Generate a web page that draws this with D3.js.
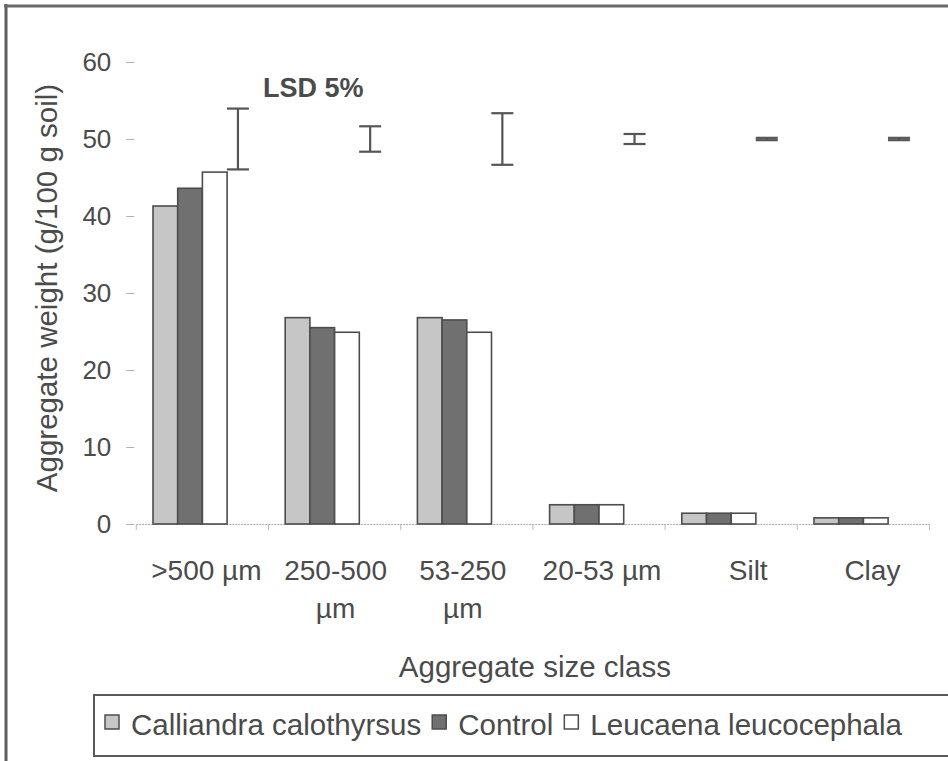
<!DOCTYPE html>
<html>
<head>
<meta charset="utf-8">
<script src="https://cdn.jsdelivr.net/npm/d3@7"></script>
<style>
  html, body { margin: 0; padding: 0; background: #ffffff; }
  svg { display: block; }
  text { font-family: "Liberation Sans", Arial, sans-serif; fill: #4b4b4b; }
</style>
</head>
<body>
<svg id="chart" width="948" height="761"></svg>
<script>
// ---- data ----
const categories = [">500 µm", "250-500 µm", "53-250 µm", "20-53 µm", "Silt", "Clay"];
const categoryLines = [[">500 µm"], ["250-500", "µm"], ["53-250", "µm"], ["20-53 µm"], ["Silt"], ["Clay"]];
const seriesNames = ["Calliandra calothyrsus", "Control", "Leucaena leucocephala"];
const calliandra = [41.3, 26.8, 26.8, 2.5, 1.4, 0.8];
const control    = [43.6, 25.5, 26.5, 2.5, 1.4, 0.8];
const leucaena   = [45.7, 24.9, 24.9, 2.5, 1.4, 0.8];
const lsdCenter  = [50, 50, 50, 50, 50, 50];
const lsdValue   = [7.9, 3.3, 6.7, 1.3, 0.3, 0.3];
const yTicks = [0, 10, 20, 30, 40, 50, 60];

// ---- layout ----
const svg = d3.select("#chart");
const W = 948, H = 761;
const plotLeft = 136.3, plotRight = 929.5, plotTop = 62, plotBottom = 524;
const fills = ["#c6c6c6", "#707070", "#ffffff"];
const seriesValues = [calliandra, control, leucaena];

const x = d3.scaleBand().domain(categories).range([plotLeft, plotRight]).padding(0);
const inner = d3.scaleBand().domain(["c", "k", "l", "lsd"]).range([-49.4, 49.4]).padding(0);
const y = d3.scaleLinear().domain([0, 60]).range([plotBottom, plotTop]);

// scan frame
svg.append("line").attr("x1", 6).attr("x2", 6).attr("y1", 4).attr("y2", H)
  .attr("stroke", "#5e5e5e").attr("stroke-width", 3);
svg.append("line").attr("x1", 4).attr("x2", W).attr("y1", 6).attr("y2", 6)
  .attr("stroke", "#6a6a6a").attr("stroke-width", 3);

// y axis
const yAxis = d3.axisLeft(y).tickValues(yTicks).tickSize(8).tickPadding(15).tickFormat(d3.format("d"));
const gy = svg.append("g").attr("transform", `translate(${plotLeft - 2},0)`).call(yAxis);
gy.select(".domain").remove();
gy.selectAll(".tick line").attr("stroke", "#b0b0b0").attr("stroke-width", 1);
gy.selectAll(".tick text").attr("font-size", 26).attr("fill", "#4b4b4b")
  .style("font-family", '"Liberation Sans", Arial, sans-serif');

// baseline (dotted) and boundary ticks
svg.append("line").attr("x1", plotLeft).attr("x2", plotRight)
  .attr("y1", y(0) + 0.5).attr("y2", y(0) + 0.5)
  .attr("stroke", "#a8a8a8").attr("stroke-width", 1.2).attr("stroke-dasharray", "2,1");
const bounds = categories.map(c => x(c)).concat([x.range()[1]]);
svg.append("g").selectAll("line").data(bounds).join("line")
  .attr("x1", d => d).attr("x2", d => d)
  .attr("y1", y(0)).attr("y2", y(0) + 6)
  .attr("stroke", "#bcbcbc").attr("stroke-width", 1);

// bars
const keys = ["c", "k", "l"];
seriesValues.forEach((vals, si) => {
  svg.append("g").selectAll("rect").data(vals).join("rect")
    .attr("x", (d, i) => x(categories[i]) + x.bandwidth() / 2 + inner(keys[si]))
    .attr("width", inner.bandwidth())
    .attr("y", d => y(d))
    .attr("height", d => y(0) - y(d))
    .attr("fill", fills[si])
    .attr("stroke", "#4d4d4d").attr("stroke-width", 1.6);
});

// LSD error bars
const eb = svg.append("g").attr("stroke", "#555555").attr("stroke-width", 2.2).attr("fill", "none");
lsdCenter.forEach((c, i) => {
  const cx = x(categories[i]) + x.bandwidth() / 2 + inner("lsd") + inner.bandwidth() / 2 - 1.5;
  const top = y(c + lsdValue[i] / 2), bot = y(c - lsdValue[i] / 2);
  eb.append("line").attr("x1", cx).attr("x2", cx).attr("y1", top).attr("y2", bot);
  eb.append("line").attr("x1", cx - 11).attr("x2", cx + 11).attr("y1", top).attr("y2", top);
  eb.append("line").attr("x1", cx - 11).attr("x2", cx + 11).attr("y1", bot).attr("y2", bot);
});

svg.append("text").attr("x", 263).attr("y", 97)
  .attr("font-size", 27).attr("font-weight", "bold").attr("fill", "#505050")
  .text("LSD 5%");

// category labels
const labelDx = [4, 1, -4, 3, 17, 9];
categoryLines.forEach((lines, i) => {
  const t = svg.append("text")
    .attr("x", x(categories[i]) + x.bandwidth() / 2 + labelDx[i])
    .attr("y", 580).attr("text-anchor", "middle").attr("font-size", 28);
  lines.forEach((ln, j) => {
    t.append("tspan").attr("x", x(categories[i]) + x.bandwidth() / 2 + labelDx[i])
      .attr("dy", j === 0 ? 0 : 38).text(ln);
  });
});

// axis titles
svg.append("text").attr("x", (plotLeft + plotRight) / 2 + 2).attr("y", 677)
  .attr("text-anchor", "middle").attr("font-size", 29.5).text("Aggregate size class");
svg.append("text").attr("transform", "translate(57,288) rotate(-90)")
  .attr("text-anchor", "middle").attr("font-size", 29.5).text("Aggregate weight (g/100 g soil)");

// legend
svg.append("rect").attr("x", 94).attr("y", 695).attr("width", 900).attr("height", 61)
  .attr("fill", "none").attr("stroke", "#5a5a5a").attr("stroke-width", 2);
let lx = 105;
seriesNames.forEach((name, si) => {
  svg.append("rect").attr("x", lx).attr("y", 715).attr("width", 14).attr("height", 14)
    .attr("fill", fills[si]).attr("stroke", "#4d4d4d").attr("stroke-width", 1.5);
  const t = svg.append("text").attr("x", lx + 26).attr("y", 735).attr("font-size", 29.5).text(name);
  lx = lx + 26 + t.node().getComputedTextLength() + 11;
});
</script>
</body>
</html>
